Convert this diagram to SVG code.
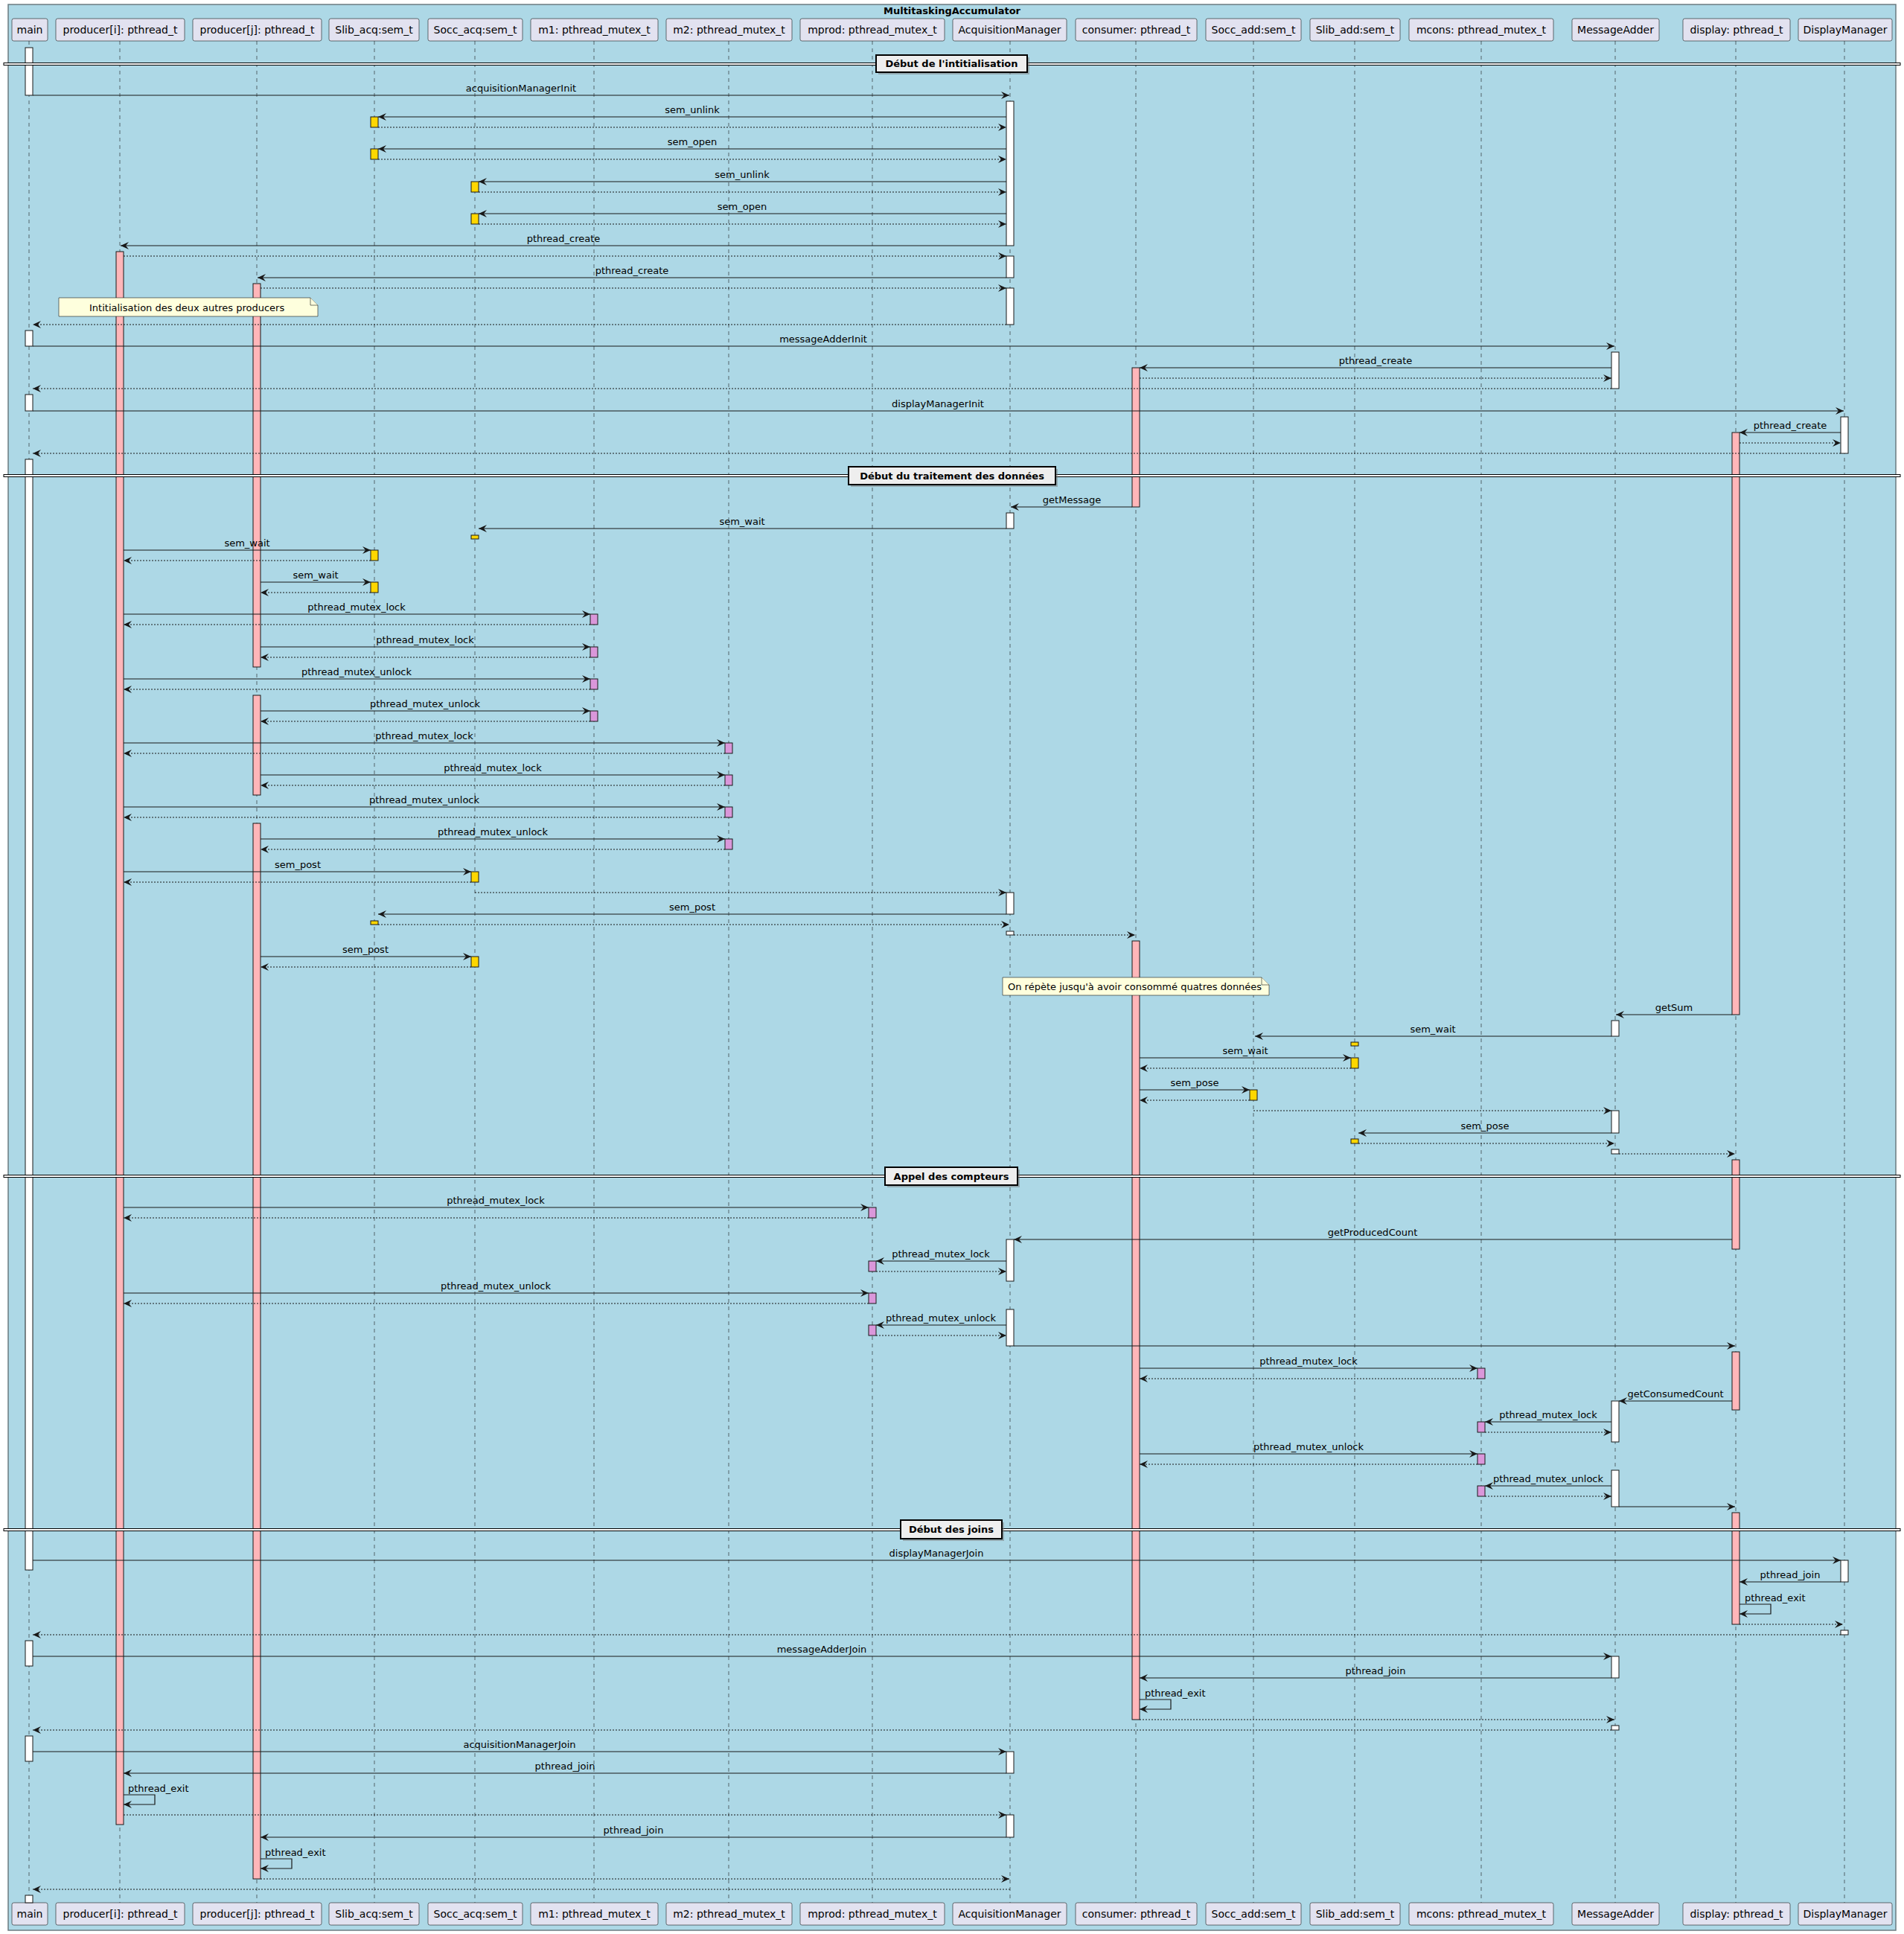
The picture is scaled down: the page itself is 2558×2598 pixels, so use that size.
<svg xmlns="http://www.w3.org/2000/svg" width="2558" height="2598" viewBox="0 0 2558 2598">
<defs>
<marker id="ah" markerUnits="userSpaceOnUse" markerWidth="14" markerHeight="12" viewBox="0 0 14 12" refX="11" refY="5" orient="auto">
<path d="M0,0 L11,5 L0,10 L4,5 Z" fill="#181818"/>
</marker>
</defs>
<style>
text{font-family:"DejaVu Sans","Liberation Sans",sans-serif;fill:#000}
.pb{fill:#E2E2F0;stroke:#181818;stroke-width:0.6}
.pt{font-size:14px;text-anchor:middle}
.ll{stroke:#181818;stroke-width:0.6;stroke-dasharray:5,5;fill:none}
.aw{fill:#FFFFFF;stroke:#181818;stroke-width:1}
.ap{fill:#FFB6B9;stroke:#181818;stroke-width:1}
.ay{fill:#FFD700;stroke:#181818;stroke-width:1}
.am{fill:#DA97DA;stroke:#181818;stroke-width:1}
.m{stroke:#181818;stroke-width:1.2;fill:none;marker-end:url(#ah)}
.r{stroke:#181818;stroke-width:1.2;fill:none;stroke-dasharray:2,2;marker-end:url(#ah)}
.lb{font-size:13px;text-anchor:middle}
.ls{font-size:13px}
.dv{fill:#FFFFFF;stroke:#000;stroke-width:1}
.db{fill:#EEEEEE;stroke:#000;stroke-width:2}
.ds{fill:#777;opacity:0.5}
.dt{font-size:13px;font-weight:bold;text-anchor:middle}
.nt{fill:#FEFFDD;stroke:#181818;stroke-width:0.6}
</style>
<rect x="11" y="6" width="2536" height="2587" fill="#ADD8E6" stroke="#6B7B80" stroke-width="1.5"/>
<text x="1279" y="19" font-size="13" font-weight="bold" text-anchor="middle">MultitaskingAccumulator</text>

<g id="p-main">
<line class="ll" x1="39" y1="55" x2="39" y2="2556"/>
<rect class="pb" x="16" y="25" width="48" height="30" rx="2.5"/><text class="pt" x="40" y="45">main</text>
<rect class="pb" x="16" y="2556" width="48" height="30" rx="2.5"/><text class="pt" x="40" y="2576">main</text>
<rect class="aw" x="34" y="64" width="10" height="64"/>
<rect class="aw" x="34" y="444" width="10" height="21"/>
<rect class="aw" x="34" y="530" width="10" height="22"/>
<rect class="aw" x="34" y="617" width="10" height="1492"/>
<rect class="aw" x="34" y="2204" width="10" height="34"/>
<rect class="aw" x="34" y="2332" width="10" height="34"/>
<rect class="aw" x="34" y="2546" width="10" height="10"/>
</g>
<g id="p-produceri">
<line class="ll" x1="161" y1="55" x2="161" y2="2556"/>
<rect class="pb" x="75" y="25" width="173" height="30" rx="2.5"/><text class="pt" x="161.5" y="45">producer[i]: pthread_t</text>
<rect class="pb" x="75" y="2556" width="173" height="30" rx="2.5"/><text class="pt" x="161.5" y="2576">producer[i]: pthread_t</text>
<rect class="ap" x="156" y="338" width="10" height="2113"/>
</g>
<g id="p-producerj">
<line class="ll" x1="345" y1="55" x2="345" y2="2556"/>
<rect class="pb" x="259" y="25" width="173" height="30" rx="2.5"/><text class="pt" x="345.5" y="45">producer[j]: pthread_t</text>
<rect class="pb" x="259" y="2556" width="173" height="30" rx="2.5"/><text class="pt" x="345.5" y="2576">producer[j]: pthread_t</text>
<rect class="ap" x="340" y="381" width="10" height="515"/>
<rect class="ap" x="340" y="934" width="10" height="134"/>
<rect class="ap" x="340" y="1106" width="10" height="1418"/>
</g>
<g id="p-slibacq">
<line class="ll" x1="503" y1="55" x2="503" y2="2556"/>
<rect class="pb" x="442" y="25" width="121" height="30" rx="2.5"/><text class="pt" x="502.5" y="45">Slib_acq:sem_t</text>
<rect class="pb" x="442" y="2556" width="121" height="30" rx="2.5"/><text class="pt" x="502.5" y="2576">Slib_acq:sem_t</text>
<rect class="ay" x="498" y="157" width="10" height="14"/>
<rect class="ay" x="498" y="200" width="10" height="14"/>
<rect class="ay" x="498" y="739" width="10" height="14"/>
<rect class="ay" x="498" y="782" width="10" height="14"/>
<rect class="ay" x="498" y="1237" width="10" height="5"/>
</g>
<g id="p-soccacq">
<line class="ll" x1="638" y1="55" x2="638" y2="2556"/>
<rect class="pb" x="575" y="25" width="127" height="30" rx="2.5"/><text class="pt" x="638.5" y="45">Socc_acq:sem_t</text>
<rect class="pb" x="575" y="2556" width="127" height="30" rx="2.5"/><text class="pt" x="638.5" y="2576">Socc_acq:sem_t</text>
<rect class="ay" x="633" y="244" width="10" height="14"/>
<rect class="ay" x="633" y="287" width="10" height="14"/>
<rect class="ay" x="633" y="719" width="10" height="5"/>
<rect class="ay" x="633" y="1171" width="10" height="14"/>
<rect class="ay" x="633" y="1285" width="10" height="14"/>
</g>
<g id="p-m1">
<line class="ll" x1="798" y1="55" x2="798" y2="2556"/>
<rect class="pb" x="713" y="25" width="171" height="30" rx="2.5"/><text class="pt" x="798.5" y="45">m1: pthread_mutex_t</text>
<rect class="pb" x="713" y="2556" width="171" height="30" rx="2.5"/><text class="pt" x="798.5" y="2576">m1: pthread_mutex_t</text>
<rect class="am" x="793" y="825" width="10" height="14"/>
<rect class="am" x="793" y="869" width="10" height="14"/>
<rect class="am" x="793" y="912" width="10" height="14"/>
<rect class="am" x="793" y="955" width="10" height="14"/>
</g>
<g id="p-m2">
<line class="ll" x1="979" y1="55" x2="979" y2="2556"/>
<rect class="pb" x="895" y="25" width="169" height="30" rx="2.5"/><text class="pt" x="979.5" y="45">m2: pthread_mutex_t</text>
<rect class="pb" x="895" y="2556" width="169" height="30" rx="2.5"/><text class="pt" x="979.5" y="2576">m2: pthread_mutex_t</text>
<rect class="am" x="974" y="998" width="10" height="14"/>
<rect class="am" x="974" y="1041" width="10" height="14"/>
<rect class="am" x="974" y="1084" width="10" height="14"/>
<rect class="am" x="974" y="1127" width="10" height="14"/>
</g>
<g id="p-mprod">
<line class="ll" x1="1172" y1="55" x2="1172" y2="2556"/>
<rect class="pb" x="1075" y="25" width="194" height="30" rx="2.5"/><text class="pt" x="1172" y="45">mprod: pthread_mutex_t</text>
<rect class="pb" x="1075" y="2556" width="194" height="30" rx="2.5"/><text class="pt" x="1172" y="2576">mprod: pthread_mutex_t</text>
<rect class="am" x="1167" y="1622" width="10" height="14"/>
<rect class="am" x="1167" y="1694" width="10" height="14"/>
<rect class="am" x="1167" y="1737" width="10" height="14"/>
<rect class="am" x="1167" y="1780" width="10" height="14"/>
</g>
<g id="p-acquisitionmanager">
<line class="ll" x1="1357" y1="55" x2="1357" y2="2556"/>
<rect class="pb" x="1280" y="25" width="153" height="30" rx="2.5"/><text class="pt" x="1356.5" y="45">AcquisitionManager</text>
<rect class="pb" x="1280" y="2556" width="153" height="30" rx="2.5"/><text class="pt" x="1356.5" y="2576">AcquisitionManager</text>
<rect class="aw" x="1352" y="136" width="10" height="194"/>
<rect class="aw" x="1352" y="344" width="10" height="29"/>
<rect class="aw" x="1352" y="387" width="10" height="49"/>
<rect class="aw" x="1352" y="689" width="10" height="21"/>
<rect class="aw" x="1352" y="1199" width="10" height="29"/>
<rect class="aw" x="1352" y="1251" width="10" height="5"/>
<rect class="aw" x="1352" y="1665" width="10" height="56"/>
<rect class="aw" x="1352" y="1759" width="10" height="49"/>
<rect class="aw" x="1352" y="2353" width="10" height="29"/>
<rect class="aw" x="1352" y="2438" width="10" height="30"/>
</g>
<g id="p-consumer">
<line class="ll" x1="1526" y1="55" x2="1526" y2="2556"/>
<rect class="pb" x="1445" y="25" width="163" height="30" rx="2.5"/><text class="pt" x="1526.5" y="45">consumer: pthread_t</text>
<rect class="pb" x="1445" y="2556" width="163" height="30" rx="2.5"/><text class="pt" x="1526.5" y="2576">consumer: pthread_t</text>
<rect class="ap" x="1521" y="494" width="10" height="187"/>
<rect class="ap" x="1521" y="1264" width="10" height="1046"/>
</g>
<g id="p-soccadd">
<line class="ll" x1="1684" y1="55" x2="1684" y2="2556"/>
<rect class="pb" x="1620" y="25" width="128" height="30" rx="2.5"/><text class="pt" x="1684" y="45">Socc_add:sem_t</text>
<rect class="pb" x="1620" y="2556" width="128" height="30" rx="2.5"/><text class="pt" x="1684" y="2576">Socc_add:sem_t</text>
<rect class="ay" x="1679" y="1464" width="10" height="14"/>
</g>
<g id="p-slibadd">
<line class="ll" x1="1820" y1="55" x2="1820" y2="2556"/>
<rect class="pb" x="1760" y="25" width="121" height="30" rx="2.5"/><text class="pt" x="1820.5" y="45">Slib_add:sem_t</text>
<rect class="pb" x="1760" y="2556" width="121" height="30" rx="2.5"/><text class="pt" x="1820.5" y="2576">Slib_add:sem_t</text>
<rect class="ay" x="1815" y="1400" width="10" height="5"/>
<rect class="ay" x="1815" y="1421" width="10" height="14"/>
<rect class="ay" x="1815" y="1530" width="10" height="6"/>
</g>
<g id="p-mcons">
<line class="ll" x1="1990" y1="55" x2="1990" y2="2556"/>
<rect class="pb" x="1893" y="25" width="194" height="30" rx="2.5"/><text class="pt" x="1990" y="45">mcons: pthread_mutex_t</text>
<rect class="pb" x="1893" y="2556" width="194" height="30" rx="2.5"/><text class="pt" x="1990" y="2576">mcons: pthread_mutex_t</text>
<rect class="am" x="1985" y="1838" width="10" height="14"/>
<rect class="am" x="1985" y="1910" width="10" height="14"/>
<rect class="am" x="1985" y="1953" width="10" height="14"/>
<rect class="am" x="1985" y="1996" width="10" height="14"/>
</g>
<g id="p-messageadder">
<line class="ll" x1="2170" y1="55" x2="2170" y2="2556"/>
<rect class="pb" x="2112" y="25" width="117" height="30" rx="2.5"/><text class="pt" x="2170.5" y="45">MessageAdder</text>
<rect class="pb" x="2112" y="2556" width="117" height="30" rx="2.5"/><text class="pt" x="2170.5" y="2576">MessageAdder</text>
<rect class="aw" x="2165" y="473" width="10" height="49"/>
<rect class="aw" x="2165" y="1371" width="10" height="21"/>
<rect class="aw" x="2165" y="1492" width="10" height="30"/>
<rect class="aw" x="2165" y="1544" width="10" height="6"/>
<rect class="aw" x="2165" y="1882" width="10" height="55"/>
<rect class="aw" x="2165" y="1975" width="10" height="49"/>
<rect class="aw" x="2165" y="2225" width="10" height="29"/>
<rect class="aw" x="2165" y="2318" width="10" height="6"/>
</g>
<g id="p-display">
<line class="ll" x1="2332" y1="55" x2="2332" y2="2556"/>
<rect class="pb" x="2261" y="25" width="144" height="30" rx="2.5"/><text class="pt" x="2333" y="45">display: pthread_t</text>
<rect class="pb" x="2261" y="2556" width="144" height="30" rx="2.5"/><text class="pt" x="2333" y="2576">display: pthread_t</text>
<rect class="ap" x="2327" y="581" width="10" height="782"/>
<rect class="ap" x="2327" y="1558" width="10" height="120"/>
<rect class="ap" x="2327" y="1816" width="10" height="78"/>
<rect class="ap" x="2327" y="2032" width="10" height="150"/>
</g>
<g id="p-displaymanager">
<line class="ll" x1="2478" y1="55" x2="2478" y2="2556"/>
<rect class="pb" x="2416" y="25" width="126" height="30" rx="2.5"/><text class="pt" x="2479" y="45">DisplayManager</text>
<rect class="pb" x="2416" y="2556" width="126" height="30" rx="2.5"/><text class="pt" x="2479" y="2576">DisplayManager</text>
<rect class="aw" x="2473" y="560" width="10" height="49"/>
<rect class="aw" x="2473" y="2096" width="10" height="29"/>
<rect class="aw" x="2473" y="2190" width="10" height="6"/>
</g>

<g id="connectors">
<line class="m" x1="44" y1="128" x2="1356" y2="128"/><text class="lb" x="700" y="123">acquisitionManagerInit</text>
<line class="m" x1="1352" y1="157" x2="508" y2="157"/><text class="lb" x="930" y="152">sem_unlink</text>
<line class="r" x1="508" y1="171" x2="1352" y2="171"/>
<line class="m" x1="1352" y1="200" x2="508" y2="200"/><text class="lb" x="930" y="195">sem_open</text>
<line class="r" x1="508" y1="214" x2="1352" y2="214"/>
<line class="m" x1="1352" y1="244" x2="643" y2="244"/><text class="lb" x="997" y="239">sem_unlink</text>
<line class="r" x1="643" y1="258" x2="1352" y2="258"/>
<line class="m" x1="1352" y1="287" x2="643" y2="287"/><text class="lb" x="997" y="282">sem_open</text>
<line class="r" x1="643" y1="301" x2="1352" y2="301"/>
<line class="m" x1="1352" y1="330" x2="162" y2="330"/><text class="lb" x="757" y="325">pthread_create</text>
<line class="r" x1="166" y1="344" x2="1352" y2="344"/>
<line class="m" x1="1352" y1="373" x2="346" y2="373"/><text class="lb" x="849" y="368">pthread_create</text>
<line class="r" x1="350" y1="387" x2="1352" y2="387"/>
<line class="r" x1="1352" y1="436" x2="44" y2="436"/>
<line class="m" x1="44" y1="465" x2="2169" y2="465"/><text class="lb" x="1106" y="460">messageAdderInit</text>
<line class="m" x1="2165" y1="494" x2="1531" y2="494"/><text class="lb" x="1848" y="489">pthread_create</text>
<line class="r" x1="1531" y1="508" x2="2165" y2="508"/>
<line class="r" x1="2165" y1="522" x2="44" y2="522"/>
<line class="m" x1="44" y1="552" x2="2477" y2="552"/><text class="lb" x="1260" y="547">displayManagerInit</text>
<line class="m" x1="2473" y1="581" x2="2337" y2="581"/><text class="lb" x="2405" y="576">pthread_create</text>
<line class="r" x1="2337" y1="595" x2="2473" y2="595"/>
<line class="r" x1="2473" y1="609" x2="44" y2="609"/>
<line class="m" x1="1521" y1="681" x2="1358" y2="681"/><text class="lb" x="1440" y="676">getMessage</text>
<line class="m" x1="1352" y1="710" x2="643" y2="710"/><text class="lb" x="997" y="705">sem_wait</text>
<line class="m" x1="166" y1="739" x2="498" y2="739"/><text class="lb" x="332" y="734">sem_wait</text>
<line class="r" x1="498" y1="753" x2="166" y2="753"/>
<line class="m" x1="350" y1="782" x2="498" y2="782"/><text class="lb" x="424" y="777">sem_wait</text>
<line class="r" x1="498" y1="796" x2="350" y2="796"/>
<line class="m" x1="166" y1="825" x2="793" y2="825"/><text class="lb" x="479" y="820">pthread_mutex_lock</text>
<line class="r" x1="793" y1="839" x2="166" y2="839"/>
<line class="m" x1="350" y1="869" x2="793" y2="869"/><text class="lb" x="571" y="864">pthread_mutex_lock</text>
<line class="r" x1="793" y1="883" x2="350" y2="883"/>
<line class="m" x1="166" y1="912" x2="793" y2="912"/><text class="lb" x="479" y="907">pthread_mutex_unlock</text>
<line class="r" x1="793" y1="926" x2="166" y2="926"/>
<line class="m" x1="350" y1="955" x2="793" y2="955"/><text class="lb" x="571" y="950">pthread_mutex_unlock</text>
<line class="r" x1="793" y1="969" x2="350" y2="969"/>
<line class="m" x1="166" y1="998" x2="974" y2="998"/><text class="lb" x="570" y="993">pthread_mutex_lock</text>
<line class="r" x1="974" y1="1012" x2="166" y2="1012"/>
<line class="m" x1="350" y1="1041" x2="974" y2="1041"/><text class="lb" x="662" y="1036">pthread_mutex_lock</text>
<line class="r" x1="974" y1="1055" x2="350" y2="1055"/>
<line class="m" x1="166" y1="1084" x2="974" y2="1084"/><text class="lb" x="570" y="1079">pthread_mutex_unlock</text>
<line class="r" x1="974" y1="1098" x2="166" y2="1098"/>
<line class="m" x1="350" y1="1127" x2="974" y2="1127"/><text class="lb" x="662" y="1122">pthread_mutex_unlock</text>
<line class="r" x1="974" y1="1141" x2="350" y2="1141"/>
<line class="m" x1="166" y1="1171" x2="633" y2="1171"/><text class="lb" x="400" y="1166">sem_post</text>
<line class="r" x1="633" y1="1185" x2="166" y2="1185"/>
<line class="r" x1="638" y1="1199" x2="1352" y2="1199"/>
<line class="m" x1="1352" y1="1228" x2="508" y2="1228"/><text class="lb" x="930" y="1223">sem_post</text>
<line class="r" x1="508" y1="1242" x2="1356" y2="1242"/>
<line class="r" x1="1362" y1="1256" x2="1525" y2="1256"/>
<line class="m" x1="350" y1="1285" x2="633" y2="1285"/><text class="lb" x="491" y="1280">sem_post</text>
<line class="r" x1="633" y1="1299" x2="350" y2="1299"/>
<line class="m" x1="2327" y1="1363" x2="2171" y2="1363"/><text class="lb" x="2249" y="1358">getSum</text>
<line class="m" x1="2165" y1="1392" x2="1686" y2="1392"/><text class="lb" x="1925" y="1387">sem_wait</text>
<line class="m" x1="1531" y1="1421" x2="1815" y2="1421"/><text class="lb" x="1673" y="1416">sem_wait</text>
<line class="r" x1="1815" y1="1435" x2="1531" y2="1435"/>
<line class="m" x1="1531" y1="1464" x2="1679" y2="1464"/><text class="lb" x="1605" y="1459">sem_pose</text>
<line class="r" x1="1679" y1="1478" x2="1531" y2="1478"/>
<line class="r" x1="1684" y1="1492" x2="2165" y2="1492"/>
<line class="m" x1="2165" y1="1522" x2="1825" y2="1522"/><text class="lb" x="1995" y="1517">sem_pose</text>
<line class="r" x1="1825" y1="1536" x2="2169" y2="1536"/>
<line class="r" x1="2175" y1="1550" x2="2331" y2="1550"/>
<line class="m" x1="166" y1="1622" x2="1167" y2="1622"/><text class="lb" x="666" y="1617">pthread_mutex_lock</text>
<line class="r" x1="1167" y1="1636" x2="166" y2="1636"/>
<line class="m" x1="2327" y1="1665" x2="1362" y2="1665"/><text class="lb" x="1844" y="1660">getProducedCount</text>
<line class="m" x1="1352" y1="1694" x2="1177" y2="1694"/><text class="lb" x="1264" y="1689">pthread_mutex_lock</text>
<line class="r" x1="1177" y1="1708" x2="1352" y2="1708"/>
<line class="m" x1="166" y1="1737" x2="1167" y2="1737"/><text class="lb" x="666" y="1732">pthread_mutex_unlock</text>
<line class="r" x1="1167" y1="1751" x2="166" y2="1751"/>
<line class="m" x1="1352" y1="1780" x2="1177" y2="1780"/><text class="lb" x="1264" y="1775">pthread_mutex_unlock</text>
<line class="r" x1="1177" y1="1794" x2="1352" y2="1794"/>
<line class="m" x1="1362" y1="1808" x2="2331" y2="1808"/>
<line class="m" x1="1531" y1="1838" x2="1985" y2="1838"/><text class="lb" x="1758" y="1833">pthread_mutex_lock</text>
<line class="r" x1="1985" y1="1852" x2="1531" y2="1852"/>
<line class="m" x1="2327" y1="1882" x2="2175" y2="1882"/><text class="lb" x="2251" y="1877">getConsumedCount</text>
<line class="m" x1="2165" y1="1910" x2="1995" y2="1910"/><text class="lb" x="2080" y="1905">pthread_mutex_lock</text>
<line class="r" x1="1995" y1="1924" x2="2165" y2="1924"/>
<line class="m" x1="1531" y1="1953" x2="1985" y2="1953"/><text class="lb" x="1758" y="1948">pthread_mutex_unlock</text>
<line class="r" x1="1985" y1="1967" x2="1531" y2="1967"/>
<line class="m" x1="2165" y1="1996" x2="1995" y2="1996"/><text class="lb" x="2080" y="1991">pthread_mutex_unlock</text>
<line class="r" x1="1995" y1="2010" x2="2165" y2="2010"/>
<line class="m" x1="2175" y1="2024" x2="2331" y2="2024"/>
<line class="m" x1="44" y1="2096" x2="2473" y2="2096"/><text class="lb" x="1258" y="2091">displayManagerJoin</text>
<line class="m" x1="2473" y1="2125" x2="2337" y2="2125"/><text class="lb" x="2405" y="2120">pthread_join</text>
<polyline class="m" points="2337,2155 2379,2155 2379,2168 2337,2168"/><text class="ls" x="2344" y="2151">pthread_exit</text>
<line class="r" x1="2337" y1="2182" x2="2476" y2="2182"/>
<line class="r" x1="2473" y1="2196" x2="44" y2="2196"/>
<line class="m" x1="44" y1="2225" x2="2165" y2="2225"/><text class="lb" x="1104" y="2220">messageAdderJoin</text>
<line class="m" x1="2165" y1="2254" x2="1531" y2="2254"/><text class="lb" x="1848" y="2249">pthread_join</text>
<polyline class="m" points="1531,2283 1573,2283 1573,2296 1531,2296"/><text class="ls" x="1538" y="2279">pthread_exit</text>
<line class="r" x1="1531" y1="2310" x2="2169" y2="2310"/>
<line class="r" x1="2165" y1="2324" x2="44" y2="2324"/>
<line class="m" x1="44" y1="2353" x2="1352" y2="2353"/><text class="lb" x="698" y="2348">acquisitionManagerJoin</text>
<line class="m" x1="1352" y1="2382" x2="166" y2="2382"/><text class="lb" x="759" y="2377">pthread_join</text>
<polyline class="m" points="166,2411 208,2411 208,2424 166,2424"/><text class="ls" x="172" y="2407">pthread_exit</text>
<line class="r" x1="166" y1="2438" x2="1352" y2="2438"/>
<line class="m" x1="1352" y1="2468" x2="350" y2="2468"/><text class="lb" x="851" y="2463">pthread_join</text>
<polyline class="m" points="350,2497 392,2497 392,2510 350,2510"/><text class="ls" x="356" y="2493">pthread_exit</text>
<line class="r" x1="350" y1="2524" x2="1356" y2="2524"/>
<line class="r" x1="1357" y1="2538" x2="44" y2="2538"/>
</g>

<g id="dividers">
<rect class="dv" x="5" y="84.5" width="2548" height="3"/>
<rect class="ds" x="1180" y="77" width="203" height="23"/>
<rect class="db" x="1177" y="74" width="203" height="23"/>
<text class="dt" x="1278.5" y="90">Début de l'intitialisation</text>
<rect class="dv" x="5" y="637.5" width="2548" height="3"/>
<rect class="ds" x="1143" y="630" width="278" height="24"/>
<rect class="db" x="1140" y="627" width="278" height="24"/>
<text class="dt" x="1279" y="644">Début du traitement des données</text>
<rect class="dv" x="5" y="1578.5" width="2548" height="3"/>
<rect class="ds" x="1192" y="1571" width="178" height="24"/>
<rect class="db" x="1189" y="1568" width="178" height="24"/>
<text class="dt" x="1278" y="1585">Appel des compteurs</text>
<rect class="dv" x="5" y="2053.5" width="2548" height="3"/>
<rect class="ds" x="1213" y="2045" width="136" height="25"/>
<rect class="db" x="1210" y="2042" width="136" height="25"/>
<text class="dt" x="1278" y="2059">Début des joins</text>
</g>

<g id="note-init">
<path class="nt" d="M79,400 H417 L427,410 V425 H79 Z"/>
<path class="nt" d="M417,400 V410 H427"/>
<text class="ls" x="120" y="418">Intitialisation des deux autres producers</text>
</g>
<g id="note-repeat">
<path class="nt" d="M1347,1313 H1695 L1705,1323 V1337 H1347 Z"/>
<path class="nt" d="M1695,1313 V1323 H1705"/>
<text class="ls" x="1354" y="1330">On répète jusqu'à avoir consommé quatres données</text>
</g>
</svg>
